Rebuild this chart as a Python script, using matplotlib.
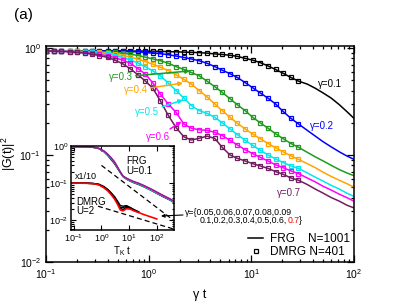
import matplotlib.pyplot as plt
from matplotlib.lines import Line2D
from matplotlib.ticker import LogLocator

plt.rcParams['font.family'] = ['Liberation Sans', 'DejaVu Sans']
plt.rcParams['mathtext.fontset'] = 'custom'
plt.rcParams['mathtext.rm'] = 'Liberation Sans'
plt.rcParams['mathtext.it'] = 'Liberation Sans:italic'
plt.rcParams['mathtext.default'] = 'regular'

# gamma*t values: DMRG squares up to ~30, FRG lines continue to 100
gt = [0.1, 0.12, 0.14, 0.17, 0.2, 0.24, 0.28, 0.33, 0.4, 0.47, 0.56, 0.66, 0.79, 0.93,
      1.1, 1.3, 1.55, 1.85, 2.2, 2.6, 3.1, 3.7, 4.4, 5.2, 6.2, 7.3, 8.7, 10.3, 12.2,
      14.5, 17.2, 20.4, 24.3, 28.8]
gt_tail = [35, 42, 50, 60, 72, 85, 100]

g01 = [0.94, 0.94, 0.94, 0.94, 0.94, 0.94, 0.94, 0.94, 0.94, 0.94, 0.94, 0.935, 0.935, 0.935,
       0.93, 0.93, 0.925, 0.92, 0.915, 0.91, 0.905, 0.895, 0.88, 0.87, 0.855, 0.835, 0.80, 0.77,
       0.73, 0.68, 0.63, 0.58, 0.53, 0.49,
       0.46, 0.42, 0.38, 0.34, 0.295, 0.255, 0.22]
g02 = [0.94, 0.94, 0.94, 0.94, 0.94, 0.94, 0.94, 0.935, 0.935, 0.93, 0.93, 0.925, 0.92, 0.91,
       0.90, 0.885, 0.865, 0.84, 0.815, 0.79, 0.76, 0.72, 0.67, 0.62, 0.575, 0.53, 0.475, 0.425,
       0.38, 0.34, 0.30, 0.255, 0.22, 0.195,
       0.17, 0.15, 0.133, 0.119, 0.107, 0.098, 0.091]
g03 = [0.94, 0.94, 0.94, 0.94, 0.935, 0.935, 0.93, 0.925, 0.92, 0.91, 0.895, 0.875, 0.85, 0.82,
       0.79, 0.76, 0.72, 0.67, 0.63, 0.59, 0.55, 0.49, 0.435, 0.385, 0.335, 0.295, 0.26, 0.225,
       0.20, 0.178, 0.158, 0.142, 0.128, 0.118,
       0.106, 0.096, 0.088, 0.080, 0.073, 0.068, 0.064]
g04 = [0.94, 0.94, 0.935, 0.935, 0.93, 0.925, 0.92, 0.91, 0.895, 0.875, 0.85, 0.82, 0.785, 0.745,
       0.705, 0.66, 0.615, 0.56, 0.51, 0.46, 0.40, 0.35, 0.30, 0.26, 0.225, 0.198, 0.175, 0.157,
       0.142, 0.128, 0.117, 0.107, 0.098, 0.091,
       0.083, 0.076, 0.069, 0.063, 0.058, 0.054, 0.050]
g05 = [0.94, 0.935, 0.935, 0.93, 0.925, 0.92, 0.91, 0.895, 0.875, 0.85, 0.815, 0.775, 0.72, 0.665,
       0.61, 0.55, 0.47, 0.40, 0.34, 0.29, 0.26, 0.245, 0.225, 0.20, 0.175, 0.155, 0.137, 0.123,
       0.111, 0.100, 0.092, 0.085, 0.079, 0.075,
       0.068, 0.062, 0.057, 0.052, 0.048, 0.044, 0.041]
g06 = [0.94, 0.935, 0.93, 0.925, 0.915, 0.905, 0.89, 0.87, 0.845, 0.81, 0.77, 0.72, 0.64, 0.57,
       0.47, 0.37, 0.30, 0.25, 0.195, 0.178, 0.172, 0.170, 0.163, 0.152, 0.137, 0.124, 0.112, 0.103,
       0.095, 0.088, 0.081, 0.076, 0.071, 0.067,
       0.061, 0.056, 0.051, 0.047, 0.043, 0.040, 0.037]
g07 = [0.94, 0.935, 0.93, 0.92, 0.91, 0.895, 0.875, 0.85, 0.815, 0.77, 0.71, 0.64, 0.56, 0.49,
       0.42, 0.32, 0.235, 0.18, 0.148, 0.138, 0.143, 0.150, 0.143, 0.118, 0.100, 0.093, 0.088, 0.083,
       0.079, 0.075, 0.070, 0.066, 0.061, 0.058,
       0.053, 0.048, 0.044, 0.040, 0.037, 0.034, 0.032]

gammas = ['0.1', '0.2', '0.3', '0.4', '0.5', '0.6', '0.7']
colors = ['black', '#0000ff', '#1f9a1f', '#ffa500', '#00e8ee', '#ff00ff', '#701f5e']

# inset: T_K t and |G|^2 curves
ins_t = [0.08, 0.15, 0.3, 0.5, 0.8, 1.2, 1.7, 2.3, 3.0, 3.8, 4.8, 6.0, 8.0, 11, 15, 22,
         35, 60, 100, 170, 300, 420]
frg_black = [0.95, 0.95, 0.94, 0.915, 0.85, 0.71, 0.55, 0.42, 0.33, 0.25, 0.19, 0.15, 0.128, 0.113,
             0.102, 0.092, 0.079, 0.065, 0.053, 0.043, 0.035, 0.030]
frg_green = [0.95, 0.95, 0.94, 0.918, 0.855, 0.72, 0.57, 0.44, 0.345, 0.26, 0.195, 0.152, 0.13, 0.115,
             0.104, 0.094, 0.08, 0.066, 0.054, 0.044, 0.036, 0.031]
frg_cyan = [0.95, 0.95, 0.94, 0.92, 0.86, 0.73, 0.58, 0.455, 0.355, 0.265, 0.198, 0.153, 0.132, 0.117,
            0.106, 0.096, 0.082, 0.067, 0.055, 0.045, 0.036, 0.031]
frg_magenta = [0.95, 0.95, 0.94, 0.92, 0.86, 0.74, 0.59, 0.465, 0.365, 0.27, 0.2, 0.154, 0.134, 0.119,
               0.108, 0.098, 0.084, 0.069, 0.056, 0.045, 0.037, 0.032]
frg_purple = [0.95, 0.95, 0.94, 0.92, 0.86, 0.74, 0.60, 0.47, 0.37, 0.27, 0.2, 0.155, 0.137, 0.122,
              0.11, 0.1, 0.086, 0.071, 0.058, 0.047, 0.038, 0.033]
dmrg_t = ins_t[:19]
dmrg_red = [0.1, 0.1, 0.099, 0.097, 0.09, 0.076, 0.062, 0.048, 0.037, 0.027, 0.019, 0.018, 0.0205,
            0.02, 0.018, 0.0162, 0.0142, 0.0124, 0.0109]
dmrg_k1 = [0.1, 0.1, 0.099, 0.098, 0.092, 0.079, 0.065, 0.051, 0.04, 0.03, 0.022, 0.022, 0.024,
           0.022, 0.019, 0.0168]
dmrg_k2 = [0.1, 0.1, 0.1, 0.098, 0.094, 0.082, 0.068, 0.054, 0.043, 0.033, 0.025, 0.024, 0.025,
           0.022, 0.0195, 0.017]
dmrg_k3 = [0.1, 0.1, 0.099, 0.097, 0.091, 0.078, 0.064, 0.05, 0.039, 0.029, 0.021, 0.0195, 0.0225,
           0.021, 0.0185, 0.0165]
dash_hi_t = [1.0, 420]
dash_hi = [0.3, 0.0098]
dash_lo_t = [0.75, 420]
dash_lo = [0.024, 0.0058]

fig = plt.figure(figsize=(3.99, 3.08), dpi=100)
ax = fig.add_axes([0.1153, 0.1494, 0.7719, 0.7022])

for y, c in zip([g01, g02, g03, g04, g05, g06, g07], colors):
    ax.plot(gt + gt_tail, y, color=c, lw=1.1)
    ax.plot(gt, y[:len(gt)], 's', mfc='none', mec=c, ms=3.2, mew=0.9)

ax.set_xscale('log')
ax.set_yscale('log')
ax.set_xlim(0.1, 100)
ax.set_ylim(0.01, 1.05)
for s in ax.spines.values():
    s.set_linewidth(1.1)
ax.tick_params(which='both', direction='in', top=True, right=True, labelsize=7.5, width=0.9)
ax.tick_params(which='major', length=5)
ax.tick_params(which='minor', length=2.5)
ax.set_xlabel('γ t', fontsize=9, labelpad=6)
ax.set_ylabel('|G(t)|$^2$', fontsize=9)
ax.yaxis.set_label_coords(-0.09, 0.5)

# gamma labels
ax.text(58, 0.46, 'γ=0.1', color=colors[0], fontsize=7, ha='center', va='center')
ax.text(48.6, 0.187, 'γ=0.2', color=colors[1], fontsize=7, ha='center', va='center')
ax.text(23.2, 0.044, 'γ=0.7', color=colors[6], fontsize=7, ha='center', va='center')
arr = [('0.3', (0.537, 0.535), (2.52, 0.61), colors[2]),
       ('0.4', (0.75, 0.405), (2.16, 0.47), colors[3]),
       ('0.5', (0.97, 0.254), (2.16, 0.327), colors[4]),
       ('0.6', (1.23, 0.148), (2.09, 0.205), colors[5])]
for g, pt, tip, c in arr:
    ax.annotate('γ=' + g, xy=tip, xytext=pt, color=c, fontsize=7, ha='center', va='center',
                arrowprops=dict(arrowstyle='-|>', color=c, lw=1.1, mutation_scale=6,
                                shrinkA=0, shrinkB=0))

handles = [Line2D([], [], color='black', lw=1.1),
           Line2D([], [], ls='none', marker='s', mfc='none', mec='black', ms=3.2, mew=0.9)]
ax.legend(handles, ['FRG    N=1001', 'DMRG N=401'], loc='lower right', frameon=False,
          fontsize=8.5, handlelength=1.3, handletextpad=0.6, labelspacing=0.15,
          borderaxespad=0.1, borderpad=0.2)

fig.text(0.035, 0.95, '(a)', fontsize=11, va='center')

# inset
ax_in = fig.add_axes([0.178, 0.2532, 0.258, 0.273])
for y, c in zip([frg_black, frg_green, frg_cyan, frg_magenta, frg_purple],
                ['black', '#1f9a1f', '#00e8ee', '#ff00ff', '#8b1f8b']):
    ax_in.plot(ins_t, y, color=c, lw=1.0)
for y in [dmrg_k1, dmrg_k2, dmrg_k3]:
    ax_in.plot(dmrg_t[:len(y)], y, color='black', lw=1.0)
ax_in.plot(dmrg_t, dmrg_red, color='red', lw=1.2)
ax_in.plot(dash_hi_t, dash_hi, color='black', ls='--', lw=0.9, dashes=(4, 2.5))
ax_in.plot(dash_lo_t, dash_lo, color='black', ls='--', lw=0.9, dashes=(4, 2.5))
ax_in.set_xscale('log')
ax_in.set_yscale('log')
ax_in.set_xlim(0.0794, 417)
ax_in.set_ylim(0.0055, 1.0)
ax_in.xaxis.set_major_locator(LogLocator(base=10, numticks=12))
ax_in.yaxis.set_major_locator(LogLocator(base=10, numticks=12))
for s in ax_in.spines.values():
    s.set_linewidth(1.1)
ax_in.tick_params(which='both', direction='in', top=True, right=True, labelsize=6.5, pad=2,
                  width=0.8)
ax_in.tick_params(which='major', length=3.5)
ax_in.tick_params(which='minor', length=1.8)
ax_in.set_xlabel('T$_K$ t', fontsize=7, labelpad=0)
ax_in.text(0.54, 0.76, 'FRG\nU=0.1', transform=ax_in.transAxes, fontsize=7,
           va='center', ha='left', linespacing=0.95)
ax_in.text(0.04, 0.637, 'x1/10', transform=ax_in.transAxes, fontsize=6.5, va='center', ha='left')
ax_in.text(0.055, 0.28, 'DMRG\nU=2', transform=ax_in.transAxes, fontsize=7,
           va='center', ha='left', linespacing=0.95)

ax_in.annotate('', xy=(0.4035, 0.2987), xytext=(0.4586, 0.302), xycoords='figure fraction',
               textcoords='figure fraction', annotation_clip=False,
               arrowprops=dict(arrowstyle='-|>', color='black', lw=0.8, mutation_scale=5,
                               shrinkA=0, shrinkB=0))
t1 = fig.text(0.4637, 0.3094, 'γ={0.05,0.06,0.07,0.08,0.09', fontsize=6.3, va='center', ha='left')
t2 = fig.text(0.501, 0.284, '0.1,0.2,0.3,0.4,0.5,0.6,', fontsize=6.3, va='center', ha='left')
t3 = ax.annotate('0.7', xy=(1, 0), xycoords=t2, fontsize=6.3, color='red', va='bottom', ha='left')
ax.annotate('}', xy=(1, 0), xycoords=t3, fontsize=6.3, va='bottom', ha='left')

fig.savefig('out.png', dpi=100)
